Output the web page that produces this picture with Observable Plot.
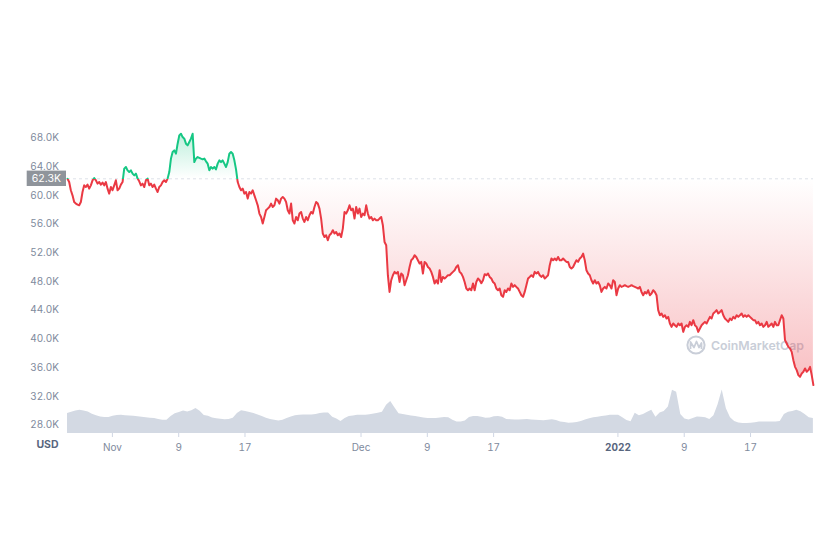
<!DOCTYPE html>
<html><head><meta charset="utf-8">
<script src="https://cdn.jsdelivr.net/npm/d3@7"></script>
<script src="https://cdn.jsdelivr.net/npm/@observablehq/plot@0.6"></script>
<style>
html,body{margin:0;padding:0;background:#fff;}
#wrap{position:relative;width:840px;height:560px;overflow:hidden;font-family:Inter,sans-serif;background:#fff;}
#wrap > svg{position:absolute;left:0;top:0;}
</style></head><body><div id="wrap"></div>
<script>
(function(){
// ---- data (BTC/USD, 90 days) ----
const priceStart = new Date(2021, 9, 26, 14, 0);
const priceEnd = new Date(2022, 0, 24, 14, 0);
const baselinePrice = 62.3; // thousand USD, first price of period
const priceK = [
62.30,61.85,60.70,60.00,59.07,58.85,58.71,58.61,59.07,60.46,
61.39,61.16,61.49,60.93,61.39,62.09,62.41,62.09,61.63,61.85,
61.49,61.77,61.39,61.85,60.93,60.24,61.16,60.70,61.39,62.09,
60.70,60.93,61.49,61.85,63.72,63.94,63.48,63.24,63.48,63.02,
62.78,63.02,62.33,61.95,61.39,61.63,61.16,62.09,62.33,61.39,
61.63,61.16,61.49,60.93,60.46,61.16,61.39,61.85,62.09,61.85,
62.33,63.24,65.11,66.03,66.26,65.80,67.19,68.35,68.58,68.11,
67.89,67.19,66.96,67.42,67.89,68.58,64.63,65.11,65.33,65.22,
65.11,65.01,65.11,64.73,64.41,63.48,63.94,63.72,63.94,63.62,
64.41,64.87,64.63,64.87,64.41,63.94,64.63,65.80,66.03,65.80,
64.87,63.62,61.85,61.16,60.70,60.93,60.24,60.46,59.54,60.46,
60.24,60.70,60.00,59.31,58.61,57.46,56.98,56.07,56.98,57.92,
58.15,58.38,58.85,58.38,58.61,59.54,59.31,58.85,59.54,59.77,
59.54,59.07,57.92,57.46,58.85,56.53,56.07,56.98,56.53,57.46,
57.68,56.76,56.29,56.98,56.53,57.22,57.68,57.46,58.38,59.07,
58.85,58.15,56.76,54.68,54.20,54.44,53.74,54.44,54.68,55.14,
54.68,54.90,54.44,54.68,54.20,55.37,57.68,57.46,57.92,58.61,
57.92,58.15,56.76,58.38,57.46,58.15,56.98,57.46,57.22,58.61,
57.46,56.76,56.98,56.53,56.76,56.53,56.53,56.76,56.98,55.83,
53.51,53.05,48.88,46.55,48.18,48.88,49.34,49.11,49.34,47.94,
49.11,48.88,47.49,48.18,48.88,50.03,50.96,51.20,51.66,51.42,
50.96,50.50,50.73,49.11,50.73,50.50,50.03,49.81,49.34,48.64,
47.72,48.18,47.72,49.57,47.94,48.64,48.42,48.64,48.88,48.88,
49.11,49.34,49.57,50.03,50.27,49.34,49.11,48.64,47.94,47.03,
46.79,47.03,46.79,47.72,46.79,47.94,48.42,48.18,47.76,48.18,
49.02,48.88,49.11,48.64,48.42,47.94,47.72,47.03,46.79,47.03,
46.09,45.86,46.79,46.55,47.03,46.79,47.72,47.25,47.49,47.25,
47.03,46.55,46.09,45.86,46.55,47.49,48.42,48.64,48.88,48.64,
49.34,49.11,49.34,48.88,48.64,48.88,48.42,48.64,48.88,50.27,
51.20,50.96,51.20,50.96,51.42,50.96,50.96,51.20,50.96,50.73,
50.73,50.03,49.81,50.03,50.50,50.96,50.73,51.20,51.42,51.89,
50.96,49.57,49.11,48.88,48.18,47.72,48.18,47.72,47.94,47.49,
46.55,47.03,47.25,47.03,47.72,47.49,47.03,48.18,47.94,46.09,
47.03,47.49,47.25,47.35,47.49,47.35,47.25,47.35,47.49,47.35,
47.25,47.14,47.03,47.25,46.55,46.09,46.55,46.33,46.79,46.09,
46.33,46.79,46.55,46.09,44.01,43.31,43.55,43.08,43.31,42.85,
43.08,42.16,41.69,42.16,41.92,41.69,42.16,41.92,42.16,40.99,
41.69,41.92,41.69,42.38,41.92,42.62,41.92,41.69,40.99,41.46,
41.92,42.16,42.38,42.16,42.62,43.08,42.85,43.55,43.77,44.01,
43.55,43.77,44.01,43.31,42.85,42.62,42.38,42.85,42.62,43.08,
42.85,43.31,43.08,43.31,43.55,43.08,43.31,43.08,43.31,43.08,
42.85,42.62,42.62,42.16,42.38,41.92,42.16,41.69,41.92,42.38,
41.69,41.92,42.16,41.69,42.38,41.92,41.92,42.62,43.31,42.85,
39.84,39.38,38.90,38.68,38.21,37.05,36.12,35.66,34.97,34.73,
35.20,35.43,35.90,35.43,35.66,36.12,34.97,33.58
];
const volumeStepHours = 12;
const volumeB = [
26.0,27.7,29.4,30.3,29.3,27.8,25.1,23.0,21.6,20.8,
20.8,22.5,23.4,23.8,23.1,22.8,22.5,21.7,21.1,20.4,
19.9,19.4,18.1,17.3,17.3,22.0,25.6,27.4,29.3,28.0,
29.6,32.4,29.0,23.4,22.5,20.3,19.1,18.6,17.8,18.1,
19.9,26.0,29.6,28.6,27.3,26.0,24.1,22.1,19.9,18.3,
17.2,16.4,17.2,19.4,21.6,23.1,23.7,24.1,24.2,24.2,
24.8,25.9,26.8,26.8,21.2,18.9,15.5,19.5,22.0,22.9,
23.8,23.8,23.8,24.4,25.4,26.4,27.7,36.8,41.6,33.5,
25.6,24.7,23.8,22.9,22.0,21.1,20.2,19.5,19.5,19.5,
20.2,20.9,20.4,17.2,15.1,15.1,16.3,20.7,22.0,22.2,
21.1,19.9,20.3,21.7,22.2,21.1,18.3,17.8,17.4,17.4,
17.9,18.2,17.6,17.2,16.8,16.5,17.2,17.9,16.9,15.0,
14.2,13.4,13.7,14.4,15.6,17.4,19.2,20.5,21.1,22.0,
22.9,23.8,23.8,23.8,20.4,16.8,15.3,26.4,23.1,24.7,
27.6,30.3,21.2,26.7,28.5,34.5,56.3,53.7,24.8,18.7,
17.6,19.5,21.6,21.1,20.5,18.3,23.0,37.3,56.6,32.1,
20.4,15.7,13.7,13.0,13.0,13.3,14.0,15.0,15.1,15.1,
15.1,15.1,15.5,24.7,27.7,28.7,30.3,28.3,24.8,20.4,
19.5
];
const xTickDates = [new Date(2021,10,1), new Date(2021,10,9), new Date(2021,10,17),
  new Date(2021,11,1), new Date(2021,11,9), new Date(2021,11,17),
  new Date(2022,0,1), new Date(2022,0,9), new Date(2022,0,17)];
const xTickLabels = ["Nov","9","17","Dec","9","17","2022","9","17"];
const yTicks = [28,32,36,40,44,48,52,56,60,64,68];
const currencyLabel = "USD";
const watermarkText = "CoinMarketCap";

// ---- build tables ----
const stepMs = (priceEnd - priceStart) / (priceK.length - 1);
const prices = priceK.map((p, i) => ({date: new Date(+priceStart + i * stepMs), price: p}));
const volumes = volumeB.map((v, i) => ({date: new Date(+priceStart + i * volumeStepHours * 3600e3), volume: v}));
const labelMap = new Map(xTickDates.map((d, i) => [+d, xTickLabels[i]]));

const W = 840, H = 560, mL = 67, mR = 27, mT = 123, mB = 127;
const xDomain = [new Date(2021, 9, 26, 14, 0), new Date(2022, 0, 24, 14, 20)];
const up = "#16c784", down = "#ea3943";

const wrap = document.getElementById("wrap");

// volume layer
const vol = Plot.plot({
  width: W, height: H, marginLeft: mL, marginRight: mR, marginTop: mT, marginBottom: mB,
  style: {background: "white"},
  x: {domain: xDomain, axis: null},
  y: {domain: [0, 403], axis: null},
  marks: [Plot.areaY(volumes, {x: "date", y: "volume", fill: "#d3d9e3"})]
});
wrap.appendChild(vol);

// watermark layer
const wm = d3.create("svg").attr("width", W).attr("height", H);
const g = wm.append("g").attr("fill", "none").attr("stroke", "#c9ced8").attr("stroke-width", 2);
g.append("circle").attr("cx", 696).attr("cy", 345).attr("r", 8.6);
g.append("path").attr("d", "M690.5 349 L690.5 342 L694 347.5 L696.5 341.5 L699 347.5 L701.5 343 L701.5 349").attr("stroke-linejoin", "round").attr("stroke-width", 1.8);
wm.append("text").attr("x", 711).attr("y", 349.5).attr("font-family", "Inter, sans-serif")
  .attr("font-size", 12.3).attr("font-weight", 600).attr("fill", "#c9ced8").text(watermarkText);
wrap.appendChild(wm.node());

// price layer
const chart = Plot.plot({
  width: W, height: H, marginLeft: mL, marginRight: mR, marginTop: mT, marginBottom: mB,
  style: {background: "transparent", color: "#808a9d", fontFamily: "Inter, sans-serif", fontSize: "10px"},
  x: {domain: xDomain, ticks: xTickDates, tickFormat: d => labelMap.get(+d), tickSize: 4, tickPadding: 6, label: null},
  y: {domain: [26.84, 70], ticks: yTicks, tickFormat: d => d.toFixed(1) + "K", tickSize: 0, tickPadding: 8.5, label: null},
  marks: [
    Plot.ruleY([baselinePrice], {stroke: "#dde1e8", strokeDasharray: "3,3"}),
    Plot.areaY(prices, {x: "date", y1: () => baselinePrice, y2: "price", fill: "url(#btcFill)"}),
    Plot.lineY(prices, {x: "date", y: "price", stroke: "url(#btcLine)", strokeWidth: 2, strokeLinejoin: "round"}),
    Plot.text([currencyLabel], {frameAnchor: "bottom-left", dx: -20, dy: 14, text: d => d, fill: "#58667e", fontWeight: "bold", fontSize: 10.5, textAnchor: "middle"})
  ]
});
wrap.appendChild(chart);

const ys = chart.scale("y");
const bPx = ys.apply(baselinePrice);
const topPx = ys.apply(69), botPx = ys.apply(34);
const off = (bPx - topPx) / (botPx - topPx);
const s = d3.select(chart);
const defs = s.insert("defs", ":first-child");
const lg = defs.append("linearGradient").attr("id", "btcLine").attr("gradientUnits", "userSpaceOnUse")
  .attr("x1", 0).attr("x2", 0).attr("y1", 0).attr("y2", H);
lg.append("stop").attr("offset", bPx / H).attr("stop-color", up);
lg.append("stop").attr("offset", bPx / H).attr("stop-color", down);
const fg = defs.append("linearGradient").attr("id", "btcFill").attr("gradientUnits", "userSpaceOnUse")
  .attr("x1", 0).attr("x2", 0).attr("y1", topPx).attr("y2", botPx);
fg.append("stop").attr("offset", 0).attr("stop-color", up).attr("stop-opacity", 0.3);
fg.append("stop").attr("offset", off).attr("stop-color", up).attr("stop-opacity", 0);
fg.append("stop").attr("offset", off).attr("stop-color", down).attr("stop-opacity", 0);
fg.append("stop").attr("offset", 1).attr("stop-color", down).attr("stop-opacity", 0.32);

// x tick styling
s.selectAll('[aria-label="x-axis tick"]').attr("stroke", "#cfd6e4");
s.selectAll("text").filter(function() { return this.textContent === "2022"; })
  .attr("font-weight", "bold").attr("fill", "#58667e");

// baseline price tag
s.append("rect").attr("x", mL - 40.3).attr("y", bPx - 7.7).attr("width", 39.3).attr("height", 15.4).attr("fill", "#8f949b");
s.append("text").attr("x", mL - 20.6).attr("y", bPx).attr("dy", "0.35em").attr("text-anchor", "middle")
  .attr("fill", "white").attr("font-size", 10.5).text(baselinePrice.toFixed(1) + "K");
})();
</script></body></html>
